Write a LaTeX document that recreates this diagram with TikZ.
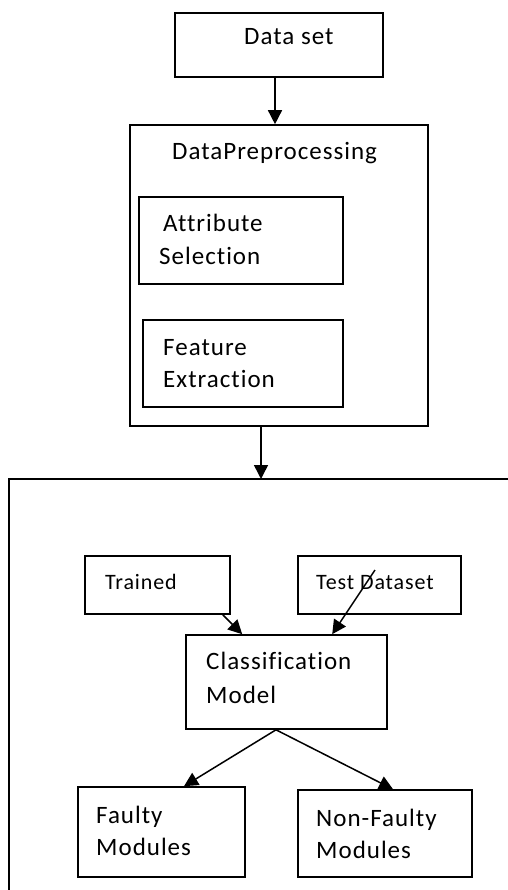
\documentclass[tikz,border=0pt]{standalone}
\usepackage{fontspec}
\setmainfont{Carlito}[LetterSpace=4,RawFeature=-liga]
\usetikzlibrary{arrows.meta}
\begin{document}
\begin{tikzpicture}[x=1pt,y=-1pt,
  box/.style={draw,line width=1.6pt,rectangle,inner sep=0pt},
  lbl/.style={inner sep=0pt,anchor=base west,font=\fontsize{25}{30}\selectfont},
  slbl/.style={inner sep=0pt,anchor=base west,font=\fontsize{22}{26}\selectfont},
  arr/.style={line width=1.5pt,-{Triangle[width=14pt,length=14pt]}}]
\useasboundingbox (0,0) rectangle (507,890);
% boxes
\node[box,minimum width=208pt,minimum height=64pt] (ds) at (279,45) {};
\node[box,minimum width=298pt,minimum height=301pt] (dp) at (279,275.5) {};
\node[box,minimum width=204pt,minimum height=87pt] (as) at (241,240.5) {};
\node[box,minimum width=200pt,minimum height=87pt] (fe) at (243,363.5) {};
\node[box,minimum width=145pt,minimum height=58pt] (tr) at (157.5,585) {};
\node[box,minimum width=163pt,minimum height=58pt] (td) at (379.5,585) {};
\node[box,minimum width=201pt,minimum height=94pt] (cm) at (286.5,682) {};
\node[box,minimum width=167pt,minimum height=90pt] (fm) at (161.5,832) {};
\node[box,minimum width=174pt,minimum height=87pt] (nf) at (385,833.5) {};
% open outer frame
\coordinate (bigtop) at (261,479);
\coordinate (bigtr) at (508,479);
\coordinate (bigtl) at (9,479);
\coordinate (bigbl) at (9,891);
\draw[line width=1.6pt] (bigtr) -- (bigtl) -- (bigbl);
% texts
\node[lbl] (t1) at (244,45) {Data set};
\node[lbl] (t2) at (172,160) {DataPreprocessing};
\node[lbl] (t3) at (163,232) {Attribute};
\node[lbl] (t4) at (159,265) {Selection};
\node[lbl] (t5) at (163,355) {Feature};
\node[lbl] (t6) at (163,387) {Extraction};
\node[slbl] (t7) at (105,589) {Trained};
\node[slbl] (t8) at (316,589) {Test Dataset};
\node[lbl] (t9) at (206,669) {Classification};
\node[lbl] (t10) at (206,703) {Model};
\node[lbl] (t11) at (96,823) {Faulty};
\node[lbl] (t12) at (96,855) {Modules};
\node[lbl] (t13) at (316,826) {Non-Faulty};
\node[lbl] (t14) at (316,858) {Modules};
% connectors
\draw[arr] ([xshift=-4pt]ds.south) -- ([xshift=-4pt]dp.north);
\draw[arr] ([xshift=-18pt]dp.south) -- (bigtop);
\coordinate (tdstart) at (375,570);
\draw[arr] ([xshift=-8pt]tr.south east) -- ([xshift=57pt]cm.north west);
\draw[arr] (tdstart) -- ([xshift=147pt]cm.north west);
\draw[arr] ([xshift=-10.5pt]cm.south) -- ([xshift=22.5pt]fm.north);
\draw[arr] ([xshift=-10.5pt]cm.south) -- ([xshift=8pt]nf.north);
\end{tikzpicture}
\end{document}
